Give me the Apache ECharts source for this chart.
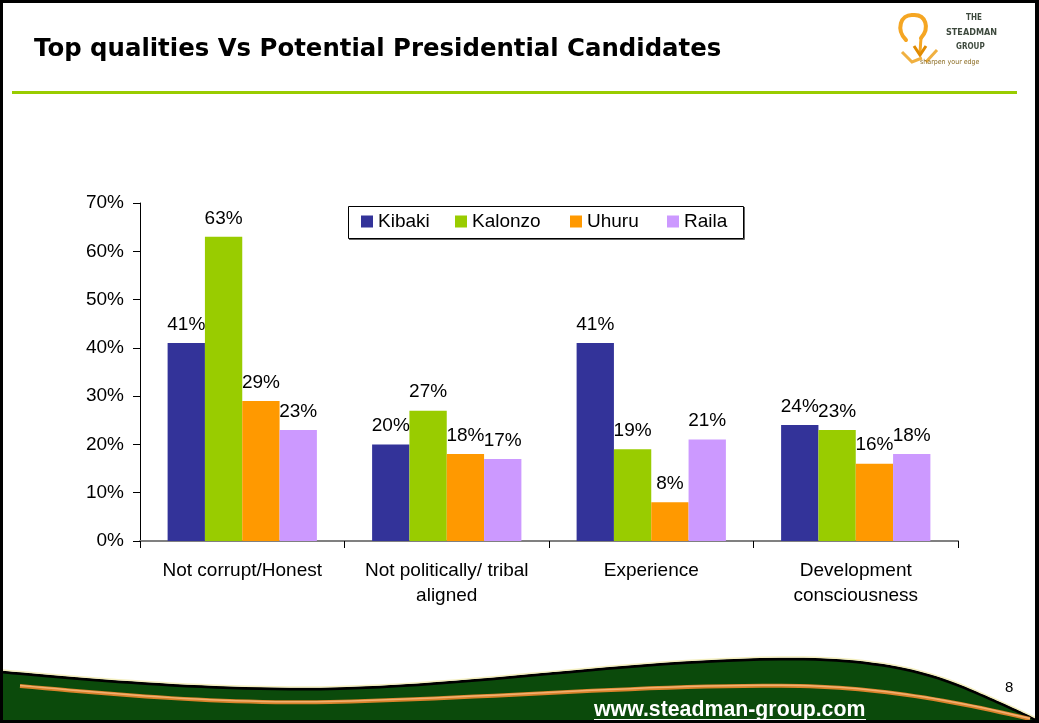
<!DOCTYPE html>
<html>
<head>
<meta charset="utf-8">
<script src="https://cdn.jsdelivr.net/npm/echarts@6/dist/echarts.min.js"></script>
<style>
  html, body { margin: 0; padding: 0; background: #fff; }
  #chart { width: 1039px; height: 723px; }
</style>
</head>
<body>
<div id="chart"></div>
<script>
// Survey: share of respondents naming each quality, per candidate (%)
const categories = ['Not corrupt/Honest', 'Not politically/ tribal\naligned', 'Experience', 'Development\nconsciousness'];
const candidates = ['Kibaki', 'Kalonzo', 'Uhuru', 'Raila'];
const kibaki  = [41, 20, 41, 24];
const kalonzo = [63, 27, 19, 23];
const uhuru   = [29, 18, 8, 16];
const raila   = [23, 17, 21, 18];
const yMin = 0, yMax = 70, yStep = 10;

const seriesValues = [kibaki, kalonzo, uhuru, raila];
const colors = ['#333399', '#99CC00', '#FF9900', '#CC99FF'];
const legendLeft = [361, 455, 570, 667];
const FONT = 'Liberation Sans, Arial, sans-serif';

const chart = echarts.init(document.getElementById('chart'), null, { renderer: 'canvas' });

// Turn a chain of cubic curves into a point list for polyline/polygon decorations
function curvePoints(start, segs, dy) {
  const pts = [];
  let [x0, y0] = start;
  pts.push([x0, y0 + (dy || 0)]);
  segs.forEach(s => {
    const [c1x, c1y, c2x, c2y, x, y] = s;
    for (let i = 1; i <= 24; i++) {
      const t = i / 24, u = 1 - t;
      const px = u*u*u*x0 + 3*u*u*t*c1x + 3*u*t*t*c2x + t*t*t*x;
      const py = u*u*u*y0 + 3*u*u*t*c1y + 3*u*t*t*c2y + t*t*t*y;
      pts.push([px, py + (dy || 0)]);
    }
    x0 = x; y0 = y;
  });
  return pts;
}

// Footer wave outlines
const waveStart = [3, 672];
const waveSegs = [
  [80, 679, 200, 690, 320, 689],
  [480, 686, 620, 661, 780, 659],
  [880, 658, 930, 673, 970, 690],
  [1000, 703, 1020, 712, 1036, 720]
];
const stripeStart = [20, 686];
const stripeSegs = [
  [120, 695, 220, 704, 330, 702],
  [500, 698, 650, 684, 800, 686],
  [880, 688, 950, 700, 1030, 719]
];
const waveTop = curvePoints(waveStart, waveSegs);
const waveFill = waveTop.concat([[1036, 723], [3, 723]]);
const stripe = curvePoints(stripeStart, stripeSegs);

const graphic = [
  // title and rule
  { type: 'text', x: 34, y: 38,
    style: { text: 'Top qualities Vs Potential Presidential Candidates', fill: '#000',
             font: 'bold 24.4px "DejaVu Sans", Verdana, sans-serif' } },
  { type: 'rect', shape: { x: 12, y: 91, width: 1005, height: 3 }, style: { fill: '#99CC00' } },
  // logo
  { type: 'bezierCurve', shape: { x1: 906, y1: 40, cpx1: 896, cpy1: 30, cpx2: 900, cpy2: 14, x2: 913, y2: 15 },
    style: { fill: 'none', stroke: '#F5A623', lineWidth: 4, lineCap: 'round' } },
  { type: 'bezierCurve', shape: { x1: 913, y1: 15, cpx1: 926, cpy1: 14, cpx2: 930, cpy2: 28, x2: 921, y2: 38 },
    style: { fill: 'none', stroke: '#F5A623', lineWidth: 4, lineCap: 'round' } },
  { type: 'line', shape: { x1: 921, y1: 38, x2: 920, y2: 52 }, style: { stroke: '#F5A623', lineWidth: 3 } },
  { type: 'polyline', shape: { points: [[914, 46], [920, 55], [926, 46]] }, style: { stroke: '#E08A00', lineWidth: 3, fill: 'none' } },
  { type: 'polyline', shape: { points: [[902, 52], [912, 62], [922, 58]] }, style: { stroke: '#F0B040', lineWidth: 3, fill: 'none' } },
  { type: 'line', shape: { x1: 937, y1: 50, x2: 926, y2: 62 }, style: { stroke: '#F0B040', lineWidth: 3 } },
  { type: 'text', x: 966, y: 14, style: { text: 'THE', fill: '#3e4a3e', font: 'bold 8px "DejaVu Sans Condensed", sans-serif' } },
  { type: 'text', x: 946, y: 28, style: { text: 'STEADMAN', fill: '#3e4a3e', font: 'bold 9px "DejaVu Sans Condensed", sans-serif' } },
  { type: 'text', x: 956, y: 43, style: { text: 'GROUP', fill: '#3e4a3e', font: 'bold 8px "DejaVu Sans Condensed", sans-serif' } },
  { type: 'text', x: 920, y: 59, style: { text: 'sharpen your edge', fill: '#8a6a20', font: '7px "DejaVu Sans Condensed", sans-serif' } },
  // legend frame
  { type: 'rect', shape: { x: 348.5, y: 206.5, width: 395, height: 32 },
    style: { fill: '#fff', stroke: '#000', lineWidth: 1 }, z: 1 },
  { type: 'polyline', shape: { points: [[744.5, 207], [744.5, 239.5], [349, 239.5]] },
    style: { fill: 'none', stroke: '#666', lineWidth: 1 }, z: 1 },
  // footer wave
  { type: 'polygon', shape: { points: waveFill }, style: { fill: '#0B4A0B' } },
  { type: 'polyline', shape: { points: waveTop }, style: { fill: 'none', stroke: '#000', lineWidth: 3 } },
  { type: 'polyline', shape: { points: curvePoints(waveStart, waveSegs, -2) }, style: { fill: 'none', stroke: '#F4EFC0', lineWidth: 1.5 } },
  { type: 'polyline', shape: { points: stripe }, style: { fill: 'none', stroke: '#D9822B', lineWidth: 4 } },
  { type: 'polyline', shape: { points: curvePoints(stripeStart, stripeSegs, -0.5) }, style: { fill: 'none', stroke: '#F3B070', lineWidth: 1.5 } },
  // page number and address
  { type: 'text', x: 1005, y: 680, style: { text: '8', fill: '#000', font: '15px "Liberation Sans", Arial, sans-serif' } },
  { type: 'text', x: 594, y: 700, style: { text: 'www.steadman-group.com', fill: '#fff', font: 'bold 21.3px "Liberation Sans", Arial, sans-serif' } },
  { type: 'rect', shape: { x: 594, y: 719, width: 272, height: 1.2 }, style: { fill: '#fff' } },
  // slide frame
  { type: 'rect', shape: { x: 0, y: 0, width: 1039, height: 3 }, style: { fill: '#000' } },
  { type: 'rect', shape: { x: 0, y: 0, width: 3, height: 723 }, style: { fill: '#000' } },
  { type: 'rect', shape: { x: 1035, y: 0, width: 4, height: 723 }, style: { fill: '#000' } },
  { type: 'rect', shape: { x: 0, y: 720, width: 1039, height: 3 }, style: { fill: '#000' } }
];

const legends = candidates.map((name, i) => ({
  data: [name],
  left: legendLeft[i],
  top: 212,
  padding: 0,
  itemWidth: 12,
  itemHeight: 12,
  itemGap: 0,
  icon: 'rect',
  selectedMode: false,
  z: 5,
  textStyle: { fontFamily: FONT, fontSize: 19, color: '#000' }
}));

const series = candidates.map((name, i) => ({
  name: name,
  type: 'bar',
  data: seriesValues[i],
  barGap: '0%',
  barCategoryGap: '27%',
  itemStyle: { color: colors[i] },
  label: {
    show: true,
    position: 'top',
    distance: 9,
    formatter: '{c}%',
    fontFamily: FONT,
    fontSize: 19,
    color: '#000'
  }
}));

chart.setOption({
  animation: false,
  backgroundColor: '#fff',
  graphic: { elements: graphic },
  legend: legends,
  grid: { left: 140, right: 81, top: 203, bottom: 182, containLabel: false },
  xAxis: {
    type: 'category',
    data: categories,
    axisLine: { lineStyle: { color: '#808080', width: 2 } },
    axisTick: { show: true, length: 7, lineStyle: { color: '#000', width: 1 } },
    axisLabel: { fontFamily: FONT, fontSize: 19, color: '#000', margin: 17, lineHeight: 25, interval: 0 }
  },
  yAxis: {
    type: 'value',
    min: yMin, max: yMax, interval: yStep,
    axisLine: { show: true, lineStyle: { color: '#000', width: 1 } },
    axisTick: { show: true, length: 7, lineStyle: { color: '#000' } },
    splitLine: { show: false },
    axisLabel: { formatter: '{value}%', fontFamily: FONT, fontSize: 19, color: '#000', margin: 16 }
  },
  series: series
});
</script>
</body>
</html>
